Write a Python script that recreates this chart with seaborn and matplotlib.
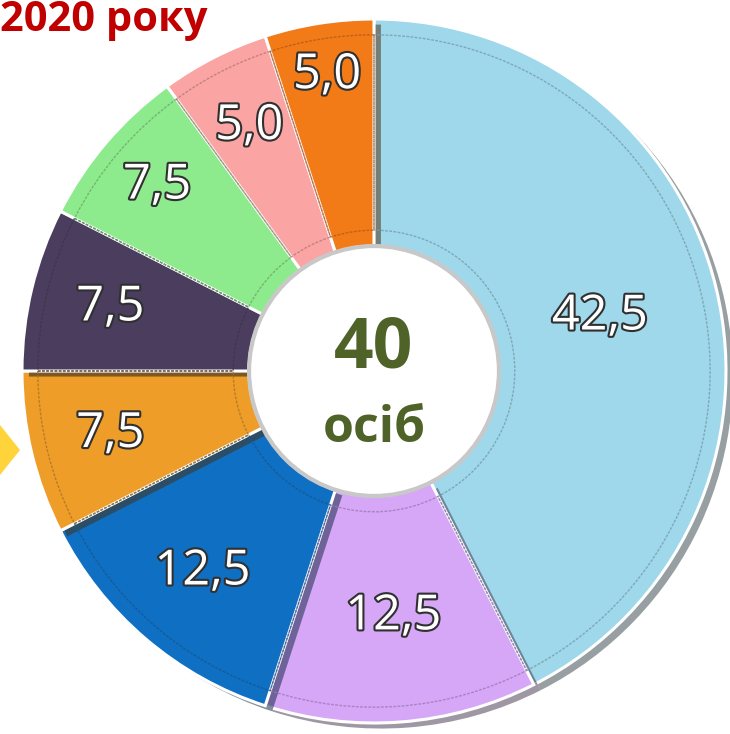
import matplotlib
matplotlib.use("Agg")
import numpy as np
import matplotlib.pyplot as plt
import matplotlib.patheffects as pe
import seaborn as sns

# share of people by group, %, clockwise from 12 o'clock
shares = [42.5, 12.5, 12.5, 7.5, 7.5, 7.5, 5.0, 5.0]
slice_colors = ["#9fd8ea", "#d6a7f7", "#0f6fc2", "#ee9d28",
                "#4a3d5e", "#8deb8d", "#fba4a4", "#f27a17"]
total_people = "40"
people_word = "осіб"
title_text = "2020 року"

# how far out each value label sits (fraction of outer radius)
label_dist = [0.66, 0.70, 0.75, 0.77, 0.77, 0.81, 0.78, 0.85]

sns.set_theme(style="white")
plt.rcParams["font.family"] = ["Open Sans", "DejaVu Sans"]

W, H = 730, 734
cx, cy, R = 374, 371, 352  # pixel centre and outer radius of the donut

fig = plt.figure(figsize=(W / 100, H / 100), dpi=100, facecolor="white")
ax = fig.add_axes([0, 0, 1, 1])

edge_colors = [sns.dark_palette(c, n_colors=4)[2] for c in slice_colors]

wedges, texts = ax.pie(
    shares, colors=slice_colors, startangle=90, counterclock=False,
    radius=1.0, labels=[f"{v:.1f}".replace(".", ",") for v in shares],
    labeldistance=0.7,
    wedgeprops=dict(width=0.645, edgecolor="white", linewidth=2.2),
    textprops=dict(fontsize=35, color="white", ha="center", va="center"),
)
for w in wedges:
    w.set_path_effects([pe.SimplePatchShadow(offset=(5, -4), alpha=0.5), pe.Normal()])
for w, t, d in zip(wedges, texts, label_dist):
    ang = np.deg2rad((w.theta1 + w.theta2) / 2)
    t.set_position((d * np.cos(ang), d * np.sin(ang)))
    t.set_horizontalalignment("center")
    t.set_verticalalignment("center")
    t.set_path_effects([pe.withStroke(linewidth=3, foreground="#303030")])

# inner bevel outlines
inner, _ = ax.pie(
    shares, startangle=90, counterclock=False, radius=0.955,
    wedgeprops=dict(width=0.555, facecolor="none", linewidth=1.0, linestyle=(0, (2, 1))),
)
for w, ec in zip(inner, edge_colors):
    w.set_edgecolor(ec)
    w.set_alpha(0.8)

hole = plt.Circle((0, 0), 0.355, facecolor="white", edgecolor="#c8c8c8", linewidth=3)
ax.add_patch(hole)

ax.text(0.0, 0.06, total_people, ha="center", va="center", fontsize=50,
        fontweight="bold", color="#4f6228")
ax.text(0.0, -0.165, people_word, ha="center", va="center", fontsize=36,
        fontweight="bold", color="#4f6228")

# pie() resets the limits, so set them afterwards
ax.set_xlim(-cx / R, (W - cx) / R)
ax.set_ylim(-(H - cy) / R, cy / R)
ax.set_aspect("equal")
ax.axis("off")

fig.text(0.0, 0.972, title_text, ha="left", va="center", fontsize=30,
         fontweight="bold", color="#c00000")

# yellow marker at left edge
fig.patches.append(plt.Polygon([(0, 1 - 425 / H), (20 / W, 1 - 450 / H), (0, 1 - 475 / H)],
                               closed=True, transform=fig.transFigure,
                               facecolor="#ffd43b", edgecolor="none"))

fig.savefig("out.png", dpi=100, facecolor="white")
